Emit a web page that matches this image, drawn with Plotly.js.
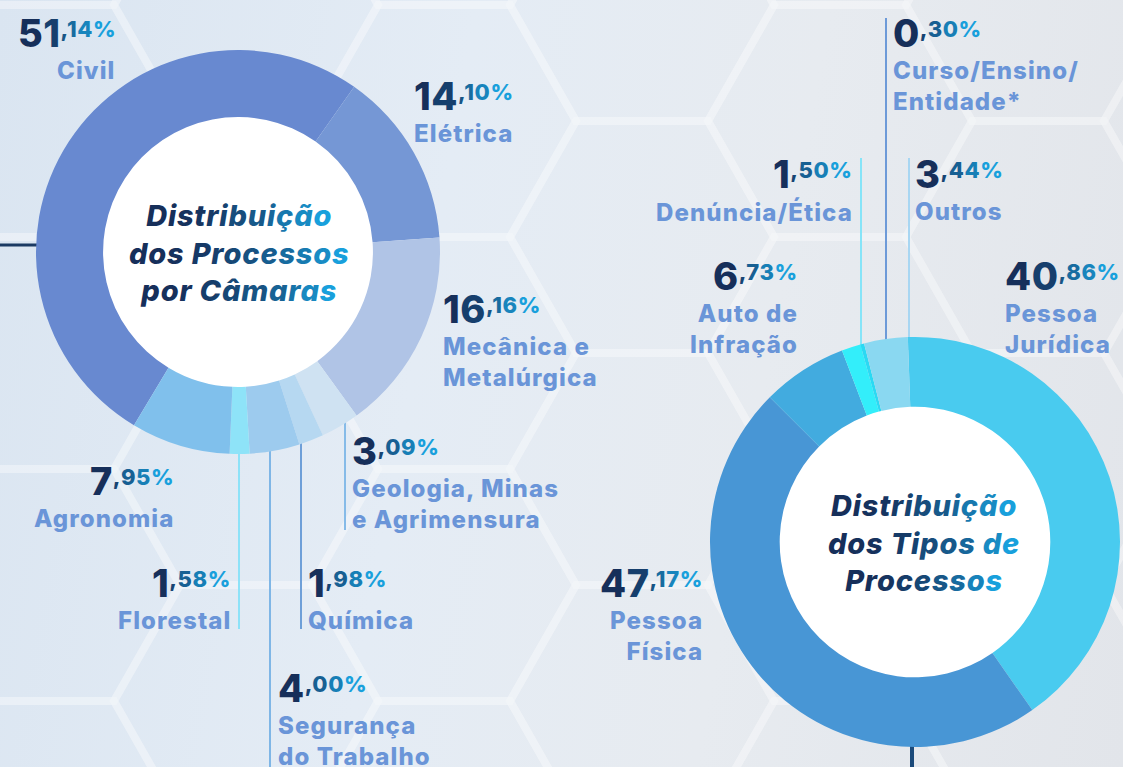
<!DOCTYPE html>
<html><head><meta charset="utf-8">
<script src="https://cdn.plot.ly/plotly-3.0.1.min.js"></script>
<style>
html,body{margin:0;padding:0;width:1123px;height:767px;overflow:hidden;}
body{background:linear-gradient(100deg,#dae5f1 0%,#e4ecf5 38%,#e7ebf0 66%,#e2e5ea 100%);}
#chart{width:1123px;height:767px;}
</style></head><body><div id="chart"></div>
<script>
// ---------- DATA ----------
const camaraLabels = ['Civil','Elétrica','Mecânica e<br>Metalúrgica','Geologia, Minas<br>e Agrimensura','Química','Segurança<br>do Trabalho','Florestal','Agronomia'];
const camaraValues = [51.14, 14.10, 16.16, 3.09, 1.98, 4.00, 1.58, 7.95];
const tipoLabels = ['Pessoa<br>Jurídica','Pessoa<br>Física','Auto de<br>Infração','Denúncia/Ética','Curso/Ensino/<br>Entidade*','Outros'];
const tipoValues = [40.86, 47.17, 6.73, 1.50, 0.30, 3.44];
const centerTitles = [['Distribuição','dos Processos','por Câmaras'],['Distribuição','dos Tipos de','Processos']];

// ---------- STYLE ----------
const camaraColors = ['#6889d0','#7597d5','#b0c4e6','#cfe2f2','#b6d8f1','#9dcbee','#8ee3f8','#80c0ec'];
const tipoColors = ['#49cbef','#4896d5','#42abdf','#33eefa','#2bd9f3','#8ad8f1'];
const W = 1123, H = 767;
const FONT = 'Inter, "Open Sans", sans-serif';
const NAVY = [22,47,90], BLUE = [24,160,220], LABEL = '#6a95d8';
// label placement: x in px, number baseline in px, alignment
const camaraPos = [
  {x:116,b:47,a:'right'},{x:414,b:110,a:'left'},{x:443,b:323,a:'left'},{x:352,b:465,a:'left'},
  {x:308,b:597,a:'left'},{x:278,b:702,a:'left'},{x:231,b:597,a:'right'},{x:174,b:495,a:'right'}];
const tipoPos = [
  {x:1005,b:290,a:'left'},{x:703,b:597,a:'right'},{x:798,b:290,a:'right'},{x:853,b:188,a:'right'},
  {x:893,b:47,a:'left'},{x:915,b:188,a:'left'}];
const donutL = {cx:238, cy:252, r:202, hole:0.668, rot:-149};
const donutR = {cx:915, cy:542, r:205, hole:0.66, rot:-2};

const px = x => x / W, py = y => 1 - y / H;
function mix(t){ return 'rgb(' + NAVY.map((c,i)=>Math.round(c + (BLUE[i]-c)*t)).join(',') + ')'; }
function grad(str, p){
  const ch = Array.from(str), n = ch.length;
  return ch.map((c,i)=>`<span style="color:${mix(Math.pow(n>1?i/(n-1):0,p))}">${c}</span>`).join('');
}
function numText(v){
  const parts = v.toFixed(2).split('.');
  const whole = Array.from(parts[0] + ',' + parts[1] + '%');
  const n = whole.length, k = parts[0].length;
  let ints = '', decs = '';
  whole.forEach((c,i)=>{
    const t = Math.pow(i/(n-1), 1.2);
    const s = `<span style="color:${mix(t)}">${c}</span>`;
    if(i < k) ints += s; else decs += s;
  });
  return `<span style="font-size:38px;letter-spacing:0.5px">${ints}</span><sup><span style="font-size:22px;letter-spacing:0.6px">${decs}</span></sup>`;
}
function labText(s){
  return s.split('<br>').map(l=>`<span style="letter-spacing:1.1px">${l}</span>`).join('<br>');
}

const annotations = [], shapes = [];

// background honeycomb
const S = 132, H2 = 116;
for(let k=-3;k<=4;k++){
  const cx = 444 + 198*k;
  const off = (Math.abs(k)%2===0) ? 121 : 5;
  for(let n=-2;n<=4;n++){
    const cy = off + 232*n;
    const pts = [[cx+S,cy],[cx+S/2,cy-H2],[cx-S/2,cy-H2],[cx-S,cy],[cx-S/2,cy+H2],[cx+S/2,cy+H2]];
    shapes.push({type:'path', xref:'paper', yref:'paper', layer:'below',
      path:'M' + pts.map(p=>px(p[0]).toFixed(5)+','+py(p[1]).toFixed(5)).join(' L') + ' Z',
      line:{color:'rgba(255,255,255,0.22)', width:8}, fillcolor:'rgba(0,0,0,0)'});
  }
}

// white centres
[donutL, donutR].forEach(d=>{
  const ri = d.r*d.hole + 1;
  shapes.push({type:'circle', xref:'paper', yref:'paper', layer:'below',
    x0:px(d.cx-ri), x1:px(d.cx+ri), y0:py(d.cy+ri), y1:py(d.cy-ri),
    fillcolor:'#ffffff', line:{width:0}});
});

// leader lines
const leaders = [
  {x0:0,y0:245,x1:37,y1:245,c:'#1b3a63',w:3},
  {x0:239,y0:440,x1:239,y1:629,c:'#8de2f8',w:2},
  {x0:270,y0:440,x1:270,y1:767,c:'#7fb6e6',w:2},
  {x0:301,y0:440,x1:301,y1:629,c:'#6e9fd8',w:2},
  {x0:345,y0:420,x1:345,y1:530,c:'#86bbe8',w:2},
  {x0:861,y0:158,x1:861,y1:350,c:'#86e4f8',w:2},
  {x0:886,y0:18,x1:886,y1:350,c:'#6d9ad8',w:2},
  {x0:909,y0:158,x1:909,y1:350,c:'#a8d6f2',w:2},
  {x0:912,y0:740,x1:912,y1:767,c:'#1b4a7a',w:4}
];
leaders.forEach(l=>shapes.push({type:'line', xref:'paper', yref:'paper', layer:'below',
  x0:px(l.x0), y0:py(l.y0), x1:px(l.x1), y1:py(l.y1), line:{color:l.c, width:l.w}}));

function addLabels(labels, values, pos){
  labels.forEach((lab,i)=>{
    const p = pos[i];
    annotations.push({xref:'paper', yref:'paper', x:px(p.x), y:py(p.b - 36.8), xanchor:p.a, yanchor:'top',
      align:p.a, showarrow:false, borderpad:0, borderwidth:0, text:numText(values[i]),
      font:{family:FONT, size:25, weight:800}});
    annotations.push({xref:'paper', yref:'paper', x:px(p.x), y:py(p.b + 32 - 23.3), xanchor:p.a, yanchor:'top',
      align:p.a, showarrow:false, borderpad:0, borderwidth:0, text:labText(lab),
      font:{family:FONT, size:24, weight:800, color:LABEL}});
  });
}
addLabels(camaraLabels, camaraValues, camaraPos);
addLabels(tipoLabels, tipoValues, tipoPos);

// centre titles
[[donutL,centerTitles[0],1],[donutR,centerTitles[1],9]].forEach(([d,lines,dx])=>{
  annotations.push({xref:'paper', yref:'paper', x:px(d.cx+dx), y:py(d.cy+1), xanchor:'center', yanchor:'middle',
    showarrow:false, align:'center', borderpad:0, borderwidth:0,
    text:lines.map(l=>`<span style="letter-spacing:0.8px">${grad(l,2.2)}</span>`).join('<br>'),
    font:{family:FONT, size:29, weight:800, style:'italic'}});
});

function dom(d){ return {x:[px(d.cx-d.r), px(d.cx+d.r)], y:[py(d.cy+d.r), py(d.cy-d.r)]}; }

const traces = [
  {type:'pie', labels:camaraLabels, values:camaraValues, sort:false, direction:'clockwise',
   rotation:donutL.rot, hole:donutL.hole, domain:dom(donutL), textinfo:'none', hoverinfo:'skip',
   marker:{colors:camaraColors, line:{width:0}}, showlegend:false},
  {type:'pie', labels:tipoLabels, values:tipoValues, sort:false, direction:'clockwise',
   rotation:donutR.rot, hole:donutR.hole, domain:dom(donutR), textinfo:'none', hoverinfo:'skip',
   marker:{colors:tipoColors, line:{width:0}}, showlegend:false}
];

Plotly.newPlot('chart', traces, {
  width:W, height:H, margin:{l:0,r:0,t:0,b:0,pad:0},
  paper_bgcolor:'rgba(0,0,0,0)', plot_bgcolor:'rgba(0,0,0,0)',
  showlegend:false, annotations:annotations, shapes:shapes
}, {displayModeBar:false, staticPlot:true});
</script></body></html>
